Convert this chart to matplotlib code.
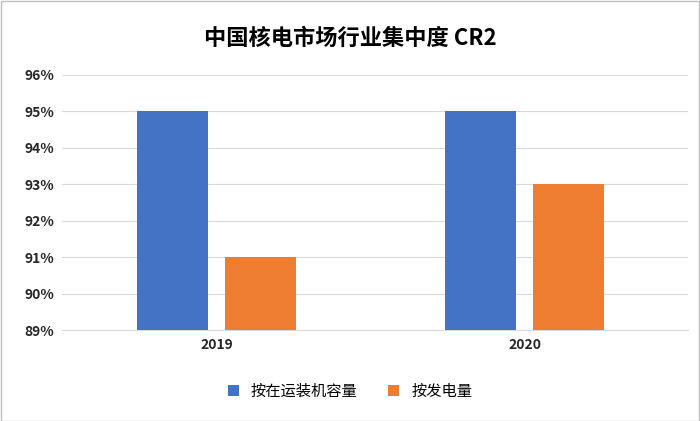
import matplotlib
matplotlib.use("Agg")
import matplotlib.pyplot as plt
import numpy as np

plt.rcParams['font.family'] = ['Noto Sans CJK SC', 'DejaVu Sans']

years = ['2019', '2020']
capacity = [95, 95]
generation = [91, 93]
series_names = ['按在运装机容量', '按发电量']
yticks = [89, 90, 91, 92, 93, 94, 95, 96]

fig = plt.figure(figsize=(7, 4.21), dpi=100)
ax = fig.add_axes([0.089, 0.216, 0.894, 0.606])
x = np.arange(len(years))
w = 0.23
ax.bar(x - 0.143, capacity, w, color='#4472C4', label=series_names[0], zorder=3)
ax.bar(x + 0.143, generation, w, color='#ED7D31', label=series_names[1], zorder=3)
ax.set_ylim(89, 96)
ax.set_xlim(-0.5, 1.53)
ax.set_yticks(yticks)
ax.set_yticklabels([f'{v}%' for v in yticks], fontsize=10, fontweight='bold', color='#262626')
ax.set_xticks(x)
ax.set_xticklabels(years, fontsize=10, fontweight='bold', color='#262626')
ax.grid(axis='y', color='#D9D9D9', linewidth=0.8, zorder=0)
for s in ['top', 'right', 'left']:
    ax.spines[s].set_visible(False)
ax.spines['bottom'].set_color('#D9D9D9')
ax.tick_params(length=0, pad=6)
fig.suptitle('中国核电市场行业集中度 CR2', y=0.935, fontsize=16, fontweight='bold')
fig.legend(loc='center', bbox_to_anchor=(0.5, 0.07), ncol=2, frameon=False, fontsize=11,
           handlelength=0.7, handleheight=0.7, columnspacing=2.0)
fig.patches.append(plt.Rectangle((0.001, 0.001), 0.998, 0.997, transform=fig.transFigure,
                                 fill=False, edgecolor='#BFBFBF', linewidth=1))
fig.savefig('out.png', dpi=100)
